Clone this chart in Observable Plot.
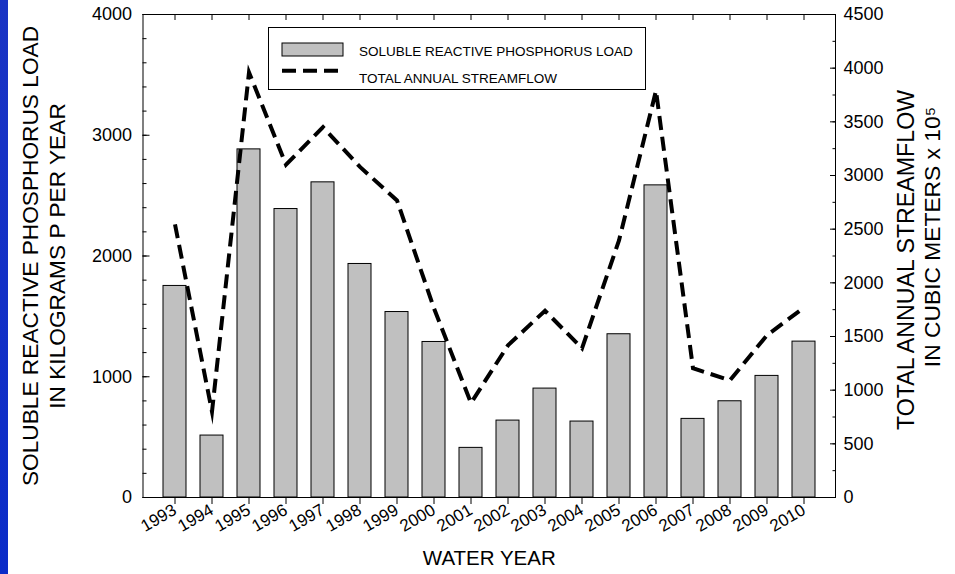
<!DOCTYPE html>
<html><head><meta charset="utf-8">
<script src="https://cdn.jsdelivr.net/npm/d3@7"></script>
<script src="https://cdn.jsdelivr.net/npm/@observablehq/plot@0.6"></script>
<style>
html,body{margin:0;padding:0;background:#fff;}
#wrap{position:relative;width:955px;height:574px;overflow:hidden;font-family:"Liberation Sans",Arial,sans-serif;}
#strip{position:absolute;left:0;top:0;width:8px;height:574px;background:linear-gradient(#1a34c4,#0b2cc8);}
#wrap svg{position:absolute;left:0;top:0;}
</style></head><body>
<div id="wrap"><div id="strip"></div></div>
<script>
const years = [1993,1994,1995,1996,1997,1998,1999,2000,2001,2002,2003,2004,2005,2006,2007,2008,2009,2010];
const srpLoad = [1752,513,2883,2389,2610,1934,1536,1288,411,637,902,629,1352,2585,651,797,1007,1291];
const streamflow = [2545,800,3960,3100,3450,3080,2768,1762,880,1418,1740,1390,2395,3790,1204,1092,1512,1770];
const leftTicks = [0,1000,2000,3000,4000];
const leftMinor = d3.range(0,4001,200);
const rightTicks = [0,500,1000,1500,2000,2500,3000,3500,4000,4500];
const rightMinor = d3.range(0,4501,250);
const leftTitle = ["SOLUBLE REACTIVE PHOSPHORUS LOAD","IN KILOGRAMS P PER YEAR"];
const rightTitle = ["TOTAL ANNUAL STREAMFLOW","IN CUBIC METERS x 10\u2075"];
const xTitle = "WATER YEAR";
const legendItems = ["SOLUBLE REACTIVE PHOSPHORUS LOAD","TOTAL ANNUAL STREAMFLOW"];

const font = "Liberation Sans, Arial, sans-serif";
const toLeft = d3.scaleLinear().domain([0,4500]).range([0,4000]);
const data = years.map((y,i)=>({year:String(y), load:srpLoad[i], flow:streamflow[i]}));
const lineStyle = {stroke:"#000", strokeWidth:4, strokeDasharray:"14,7", strokeLinecap:"butt", strokeLinejoin:"miter", strokeMiterlimit:10};
const titleStyle = {rotate:-90, textAnchor:"middle", lineAnchor:"middle", fill:"#000"};

const chart = Plot.plot({
  width:955, height:574,
  marginLeft:142.5, marginRight:120, marginTop:14, marginBottom:77,
  style:{fontFamily:font, fontSize:"18px", color:"#000", background:"transparent", overflow:"visible"},
  x:{type:"band", domain:data.map(d=>d.year), paddingInner:0.387, paddingOuter:0.536, align:0.5},
  y:{domain:[0,4000]},
  marks:[
    Plot.barY(data,{x:"year", y:"load", fill:"#c0c0c0", stroke:"#000", strokeWidth:1}),
    Plot.line(data,{x:"year", y:d=>toLeft(d.flow), ...lineStyle}),
    Plot.frame({stroke:"#000", strokeWidth:1}),
    // left axis
    Plot.axisY({anchor:"left", ticks:leftMinor, tickSize:4, dx:4, tickFormat:()=>"", label:null}),
    Plot.axisY({anchor:"left", ticks:leftTicks, tickSize:7, dx:7, tickFormat:()=>"", label:null}),
    Plot.axisY({anchor:"left", ticks:leftTicks, tickSize:0, tickPadding:11, fontSize:18, tickFormat:d=>String(d), label:null}),
    // right axis
    Plot.axisY({anchor:"right", ticks:rightMinor.map(toLeft), tickSize:3.5, dx:-3.5, tickFormat:()=>"", label:null}),
    Plot.axisY({anchor:"right", ticks:rightTicks.map(toLeft), tickSize:6, dx:-6, tickFormat:()=>"", label:null}),
    Plot.axisY({anchor:"right", ticks:rightTicks.map(toLeft), tickSize:0, tickPadding:8, fontSize:18, tickFormat:v=>String(Math.round(toLeft.invert(v))), label:null}),
    // bottom & top axes
    Plot.axisX({anchor:"bottom", tickSize:7, tickPadding:4, tickRotate:-30, fontSize:17, label:null}),
    Plot.axisX({anchor:"top", tickSize:5, dy:5, tickFormat:()=>"", label:null}),
    // titles
    Plot.text([leftTitle[0]], {frameAnchor:"left", dx:-112, fontSize:22.7, ...titleStyle}),
    Plot.text([leftTitle[1]], {frameAnchor:"left", dx:-85, fontSize:22.7, ...titleStyle}),
    Plot.text([rightTitle[0]], {frameAnchor:"right", dx:71, dy:4, fontSize:23.2, ...titleStyle}),
    Plot.text([rightTitle[1]], {frameAnchor:"right", dx:97, dy:-19, fontSize:22.8, ...titleStyle}),
    Plot.text([xTitle], {frameAnchor:"bottom", dy:67, fontSize:20.5, fill:"#000"})
  ]
});
document.getElementById("wrap").appendChild(chart);

// legend box (inside plot area, top)
const lg = d3.select("#wrap").append("svg").attr("width",378).attr("height",63)
  .style("left","268px").style("top","27px").style("position","absolute");
lg.append("rect").attr("x",0.5).attr("y",0.5).attr("width",377).attr("height",62).attr("fill","#fff").attr("stroke","#000");
lg.append("rect").attr("x",14).attr("y",16).attr("width",61).attr("height",13).attr("fill","#c0c0c0").attr("stroke","#000");
lg.append("line").attr("x1",14).attr("x2",75).attr("y1",43.7).attr("y2",43.7)
  .attr("stroke","#000").attr("stroke-width",4).attr("stroke-dasharray","14,7");
lg.selectAll("text.item").data(legendItems).join("text").attr("class","item")
  .attr("x",91).attr("y",(d,i)=>29+i*27).attr("font-family",font).attr("font-size",13.5).attr("fill","#000").text(d=>d);
</script>
</body></html>
